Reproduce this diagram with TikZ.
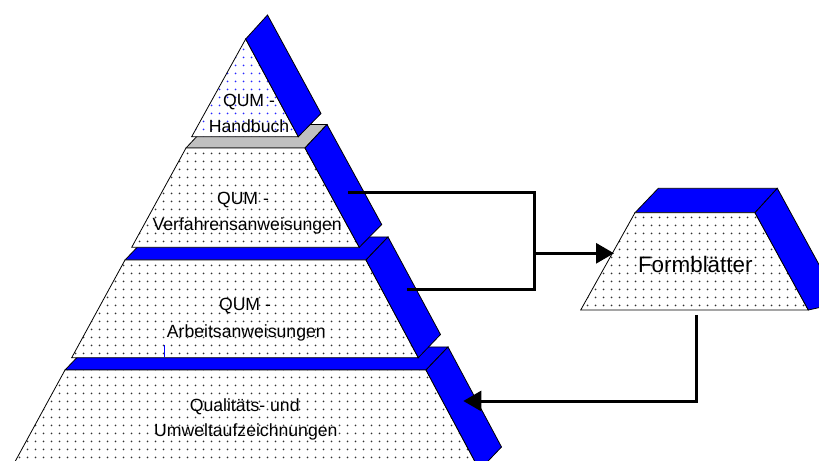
\documentclass[tikz,border=0pt]{standalone}
\usepackage{fontspec}
\setmainfont{Liberation Sans}
\usetikzlibrary{arrows.meta,patterns.meta}
\definecolor{qblue}{RGB}{0,0,255}
\definecolor{qgray}{RGB}{192,192,192}
\definecolor{qdot}{RGB}{50,50,50}
\definecolor{qbdot}{RGB}{40,40,255}
\tikzdeclarepattern{
  name=qdots,
  type=uncolored,
  bounding box={(0,0) and (8bp,8bp)},
  tile size={(8bp,8bp)},
  code={\pgfpathcircle{\pgfpoint{4bp}{4bp}}{1.05bp}\pgfusepath{fill}}
}
\tikzset{
  face/.style={draw=black, line width=0.8bp, line join=miter},
  front/.style={face, preaction={fill=white}, pattern=qdots, pattern color=qdot},
  bfront/.style={face, preaction={fill=white}, pattern=qdots, pattern color=qbdot},
  blueface/.style={face, fill=qblue},
  grayface/.style={face, fill=qgray},
  lbl/.style={anchor=base, inner sep=0pt, font=\fontsize{17.7}{21}\selectfont},
  biglbl/.style={anchor=base, inner sep=0pt, font=\fontsize{22.5}{27}\selectfont},
  conn/.style={line width=3bp, line join=miter},
  tip/.style={-{Triangle[length=18bp,width=20bp]}}
}
\begin{document}
\begin{tikzpicture}[x=1bp,y=-1bp]
\useasboundingbox (0,0) rectangle (819,461);
\clip (0,0) rectangle (819,461);
% level 4
\draw[blueface] (65,370) -- (426,370) -- (448,347) -- (87,347) -- cycle;
\draw[front] (65,370) -- (426,370) -- (479.5,470) -- (10.5,470) -- cycle;
\draw[blueface] (426,370) -- (448,347) -- (501.5,447) -- (479.5,470) -- cycle;
% level 3
\draw[blueface] (125,260) -- (366,260) -- (388,237) -- (147,237) -- cycle;
\draw[front] (125,260) -- (366,260) -- (418.3,357.7) -- (71.7,357.7) -- cycle;
\draw[blueface] (366,260) -- (388,237) -- (440.5,334.5) -- (418.3,357.7) -- cycle;
\draw[qblue, line width=0.8bp] (164.3,345) -- (164.3,357);
% level 2
\draw[grayface] (186,148) -- (305,148) -- (327,124.5) -- (208,124.5) -- cycle;
\draw[front] (186,148) -- (305,148) -- (359.3,247.3) -- (131.7,247.3) -- cycle;
\draw[blueface] (305,148) -- (327,124.5) -- (381.7,224.5) -- (359.3,247.3) -- cycle;
% level 1
\draw[bfront] (245.7,39) -- (298.3,136.7) -- (191.7,136.7) -- cycle;
\draw[blueface] (245.7,39) -- (267.5,15) -- (321,113.5) -- (298.3,136.7) -- cycle;
% Formblaetter
\draw[blueface] (635,212.7) -- (755,212.7) -- (777.3,188.3) -- (658.3,188.3) -- cycle;
\draw[front] (635,212.7) -- (755,212.7) -- (808.3,310) -- (580.7,310) -- cycle;
\draw[blueface] (755,212.7) -- (777.3,188.3) -- (840,303) -- (808.3,310) -- cycle;
% labels
\node[lbl] (h1) at (249,106.7) {QUM -};
\node[lbl] (h2) at (249,132.7) {Handbuch};
\node[lbl] (v1) at (243,205) {QUM -};
\node[lbl] (v2) at (247.2,231) {Verfahrensanweisungen};
\node[lbl] (a1) at (245,310.7) {QUM -};
\node[lbl] (a2) at (246.3,337.3) {Arbeitsanweisungen};
\node[lbl] (q1) at (244.7,411.7) {Qualitäts- und};
\node[lbl] (q2) at (245.8,436.7) {Umweltaufzeichnungen};
\node[biglbl] (fb) at (695.3,272.3) {Formblätter};
% connector points
\coordinate (vout) at (348.3,192.7);
\coordinate (aout) at (406.7,290);
\coordinate (bt) at (534,192.7);
\coordinate (bb) at (534,290);
\coordinate (bj) at (534,253.3);
\coordinate (fin) at (614,253.3);
\coordinate (fout) at (696.7,315);
\coordinate (fc) at (696.7,401);
\coordinate (qin) at (463.3,401);
\draw[conn] (vout) -- (bt) -- (bb) -- (aout);
\draw[conn, tip] (bj) -- (fin);
\draw[conn, tip] (fout) -- (fc) -- (qin);
\end{tikzpicture}
\end{document}
